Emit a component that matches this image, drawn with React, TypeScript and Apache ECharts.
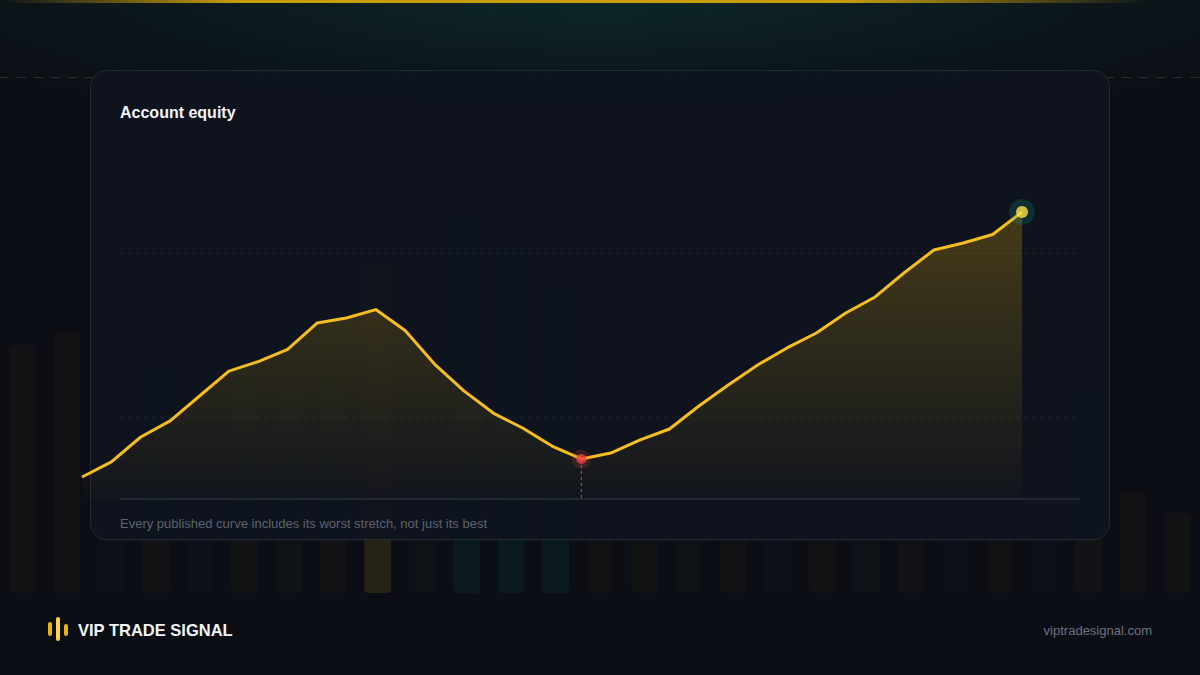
import React, { useEffect, useRef } from 'react';
import * as echarts from 'echarts';

// equity curve, in thousands (one point per week)
const weeks = [
    'W1', 'W2', 'W3', 'W4', 'W5', 'W6', 'W7', 'W8', 'W9', 'W10', 'W11',
    'W12', 'W13', 'W14', 'W15', 'W16', 'W17', 'W18', 'W19', 'W20', 'W21', 'W22',
    'W23', 'W24', 'W25', 'W26', 'W27', 'W28', 'W29', 'W30', 'W31', 'W32', 'W33',
];
const equity = [
    96.34, 97.26, 98.78, 99.76, 101.28, 102.8, 103.38, 104.12, 105.73, 106.04, 106.55,
    105.27, 103.23, 101.59, 100.24, 99.33, 98.23, 97.44, 97.8, 98.6, 99.27, 100.67,
    101.95, 103.17, 104.21, 105.12, 106.34, 107.32, 108.81, 110.18, 110.61, 111.13, 112.5,
];
const guideValues = [100, 110];
const axisFloor = 95;
const axisCeil = 115;

// faint backdrop bars behind the card
const backdropBars = [62, 65, 50, 56, 44, 58, 52, 70, 82, 60, 94, 86, 76, 48, 54, 42, 60, 50, 64, 56, 68, 58, 72, 54, 50, 25, 20];
const backdropTints = [
    'rgba(234,179,8,0.03)', 'rgba(234,179,8,0.035)', 'rgba(148,163,184,0.018)', 'rgba(234,179,8,0.03)',
    'rgba(148,163,184,0.018)', 'rgba(234,179,8,0.03)', 'rgba(132,160,60,0.035)', 'rgba(234,179,8,0.03)',
    'rgba(234,179,8,0.12)', 'rgba(100,140,60,0.035)', 'rgba(16,185,129,0.075)', 'rgba(20,184,166,0.075)',
    'rgba(16,185,129,0.075)', 'rgba(234,179,8,0.028)', 'rgba(234,179,8,0.028)', 'rgba(132,160,60,0.028)',
    'rgba(234,179,8,0.028)', 'rgba(148,163,184,0.018)', 'rgba(234,179,8,0.028)', 'rgba(132,160,60,0.028)',
    'rgba(234,179,8,0.028)', 'rgba(148,163,184,0.018)', 'rgba(234,179,8,0.028)', 'rgba(148,163,184,0.018)',
    'rgba(234,179,8,0.03)', 'rgba(234,179,8,0.035)', 'rgba(234,179,8,0.03)',
];

const FONT = '"Liberation Sans", Arial, Helvetica, sans-serif';

// index of the deepest point of the worst drawdown
function worstTrough(values: number[]) {
    let peak = values[0];
    let worst = 0;
    let idx = 0;
    values.forEach((v, i) => {
        if (v > peak) peak = v;
        if (peak - v > worst) {
            worst = peak - v;
            idx = i;
        }
    });
    return idx;
}

const App: React.FC = () => {
    const chartRef = useRef<HTMLDivElement>(null);

    useEffect(() => {
        if (!chartRef.current) return;
        const chart = echarts.init(chartRef.current, undefined, { renderer: 'svg' });

        const last = equity.length - 1;
        const trough = worstTrough(equity);

        const option: any = {
            animation: false,
            backgroundColor: '#0b0e15',
            graphic: [
                {
                    type: 'rect',
                    z: 0,
                    silent: true,
                    shape: { x: -100, y: -60, width: 1400, height: 260 },
                    style: {
                        fill: new echarts.graphic.RadialGradient(0.5, 0.2, 0.55, [
                            { offset: 0, color: 'rgba(18,115,96,0.26)' },
                            { offset: 0.55, color: 'rgba(18,100,80,0.12)' },
                            { offset: 1, color: 'rgba(18,90,80,0)' },
                        ]),
                    },
                },
                {
                    type: 'rect',
                    z: 0,
                    silent: true,
                    shape: { x: 0, y: 0, width: 1200, height: 3 },
                    style: {
                        fill: new echarts.graphic.LinearGradient(0, 0, 1, 0, [
                            { offset: 0, color: 'rgba(234,179,8,0)' },
                            { offset: 0.2, color: 'rgba(234,179,8,0.85)' },
                            { offset: 0.7, color: 'rgba(234,179,8,0.85)' },
                            { offset: 0.96, color: 'rgba(234,179,8,0)' },
                        ]),
                    },
                },
                {
                    type: 'line',
                    z: 0,
                    silent: true,
                    shape: { x1: 0, y1: 77.5, x2: 1200, y2: 77.5 },
                    style: { stroke: 'rgba(202,170,90,0.2)', lineWidth: 1, lineDash: [9, 8] },
                },
                {
                    type: 'rect',
                    z: 2,
                    silent: true,
                    shape: { x: 90.5, y: 70.5, width: 1019, height: 469, r: 16 },
                    style: { fill: 'rgba(15,20,30,0.95)', stroke: 'rgba(148,163,184,0.16)', lineWidth: 1 },
                },
                {
                    type: 'text',
                    z: 6,
                    x: 120,
                    y: 112,
                    style: {
                        text: 'Account equity',
                        fill: '#f1f5f9',
                        fontSize: 16,
                        fontWeight: 'bold',
                        fontFamily: FONT,
                        verticalAlign: 'middle',
                    },
                },
                {
                    type: 'text',
                    z: 6,
                    x: 120,
                    y: 523,
                    style: {
                        text: 'Every published curve includes its worst stretch, not just its best',
                        fill: '#5c6370',
                        fontSize: 13,
                        fontFamily: FONT,
                        verticalAlign: 'middle',
                    },
                },
                // brand mark
                {
                    type: 'rect', z: 6, silent: true,
                    shape: { x: 48, y: 622, width: 4, height: 14, r: 2 },
                    style: { fill: '#eab308' },
                },
                {
                    type: 'rect', z: 6, silent: true,
                    shape: { x: 56, y: 617, width: 4, height: 24, r: 2 },
                    style: { fill: '#fcd34d' },
                },
                {
                    type: 'rect', z: 6, silent: true,
                    shape: { x: 64, y: 624, width: 4, height: 12, r: 2 },
                    style: { fill: '#eab308' },
                },
                {
                    type: 'text',
                    z: 6,
                    x: 78,
                    y: 630,
                    style: {
                        text: 'VIP TRADE SIGNAL',
                        fill: '#f1f5f9',
                        fontSize: 16.5,
                        fontWeight: 'bold',
                        fontFamily: FONT,
                        verticalAlign: 'middle',
                    },
                },
                {
                    type: 'text',
                    z: 6,
                    x: 1152,
                    y: 630,
                    style: {
                        text: 'viptradesignal.com',
                        fill: '#6b7280',
                        fontSize: 13,
                        fontFamily: FONT,
                        align: 'right',
                        verticalAlign: 'middle',
                    },
                },
            ],
            grid: [
                { left: 0, right: 0, top: 193, bottom: 82 },
                { left: 82, right: 178, top: 171, bottom: 176 },
            ],
            xAxis: [
                { type: 'category', gridIndex: 0, data: backdropBars.map((_, i) => String(i)), show: false },
                { type: 'category', gridIndex: 1, data: weeks, boundaryGap: false, show: false },
            ],
            yAxis: [
                { type: 'value', gridIndex: 0, min: 0, max: 100, show: false },
                { type: 'value', gridIndex: 1, min: axisFloor, max: axisCeil, show: false },
            ],
            series: [
                {
                    type: 'bar',
                    xAxisIndex: 0,
                    yAxisIndex: 0,
                    z: 1,
                    silent: true,
                    barWidth: 27,
                    data: backdropBars.map((v, i) => ({
                        value: v,
                        itemStyle: { color: backdropTints[i], borderRadius: [4, 4, 4, 4] },
                    })),
                },
                {
                    type: 'line',
                    xAxisIndex: 1,
                    yAxisIndex: 1,
                    z: 5,
                    data: equity,
                    showSymbol: false,
                    silent: true,
                    clip: false,
                    lineStyle: { color: '#f5bd1f', width: 3, join: 'round' },
                    areaStyle: {
                        color: new echarts.graphic.LinearGradient(0, 0, 0, 1, [
                            { offset: 0, color: 'rgba(234,179,8,0.36)' },
                            { offset: 1, color: 'rgba(234,179,8,0.02)' },
                        ]),
                    },
                    markLine: {
                        silent: true,
                        symbol: ['none', 'none'],
                        label: { show: false },
                        z: 3,
                        lineStyle: { color: 'rgba(148,163,184,0.1)', width: 1, type: [4, 4] },
                        data: [
                            ...guideValues.map(v => [
                                { coord: [0, v], x: 120 },
                                { coord: [last, v], x: 1080 },
                            ]),
                            [
                                {
                                    coord: [0, axisFloor],
                                    x: 120,
                                    lineStyle: { color: 'rgba(148,163,184,0.18)', width: 1.5, type: 'solid' },
                                },
                                { coord: [last, axisFloor], x: 1080 },
                            ],
                        ],
                    },
                },
                {
                    // drop line from the worst trough to the floor
                    type: 'line',
                    xAxisIndex: 1,
                    yAxisIndex: 1,
                    z: 4,
                    silent: true,
                    showSymbol: false,
                    lineStyle: { color: '#ef4444', opacity: 0.75, width: 1.2, type: [3, 3] },
                    data: [[trough, equity[trough]], [trough, axisFloor]],
                },
                {
                    type: 'scatter',
                    xAxisIndex: 1,
                    yAxisIndex: 1,
                    z: 6,
                    silent: true,
                    symbolSize: 19,
                    itemStyle: { color: 'rgba(239,68,68,0.22)' },
                    data: [[trough, equity[trough]]],
                },
                {
                    type: 'scatter',
                    xAxisIndex: 1,
                    yAxisIndex: 1,
                    z: 7,
                    silent: true,
                    symbolSize: 10,
                    itemStyle: { color: '#ef4444' },
                    data: [[trough, equity[trough]]],
                },
                {
                    type: 'scatter',
                    xAxisIndex: 1,
                    yAxisIndex: 1,
                    z: 6,
                    silent: true,
                    symbolSize: 26,
                    itemStyle: { color: 'rgba(20,184,166,0.22)' },
                    data: [[last, equity[last]]],
                },
                {
                    type: 'scatter',
                    xAxisIndex: 1,
                    yAxisIndex: 1,
                    z: 7,
                    silent: true,
                    symbolSize: 12,
                    itemStyle: { color: '#fde047' },
                    data: [[last, equity[last]]],
                },
            ],
        };

        chart.setOption(option);

        return () => {
            chart.dispose();
        };
    }, []);

    return (
        <div
            ref={chartRef}
            style={{ position: 'fixed', left: 0, top: 0, width: 1200, height: 675 }}
        />
    );
};

export default App;
